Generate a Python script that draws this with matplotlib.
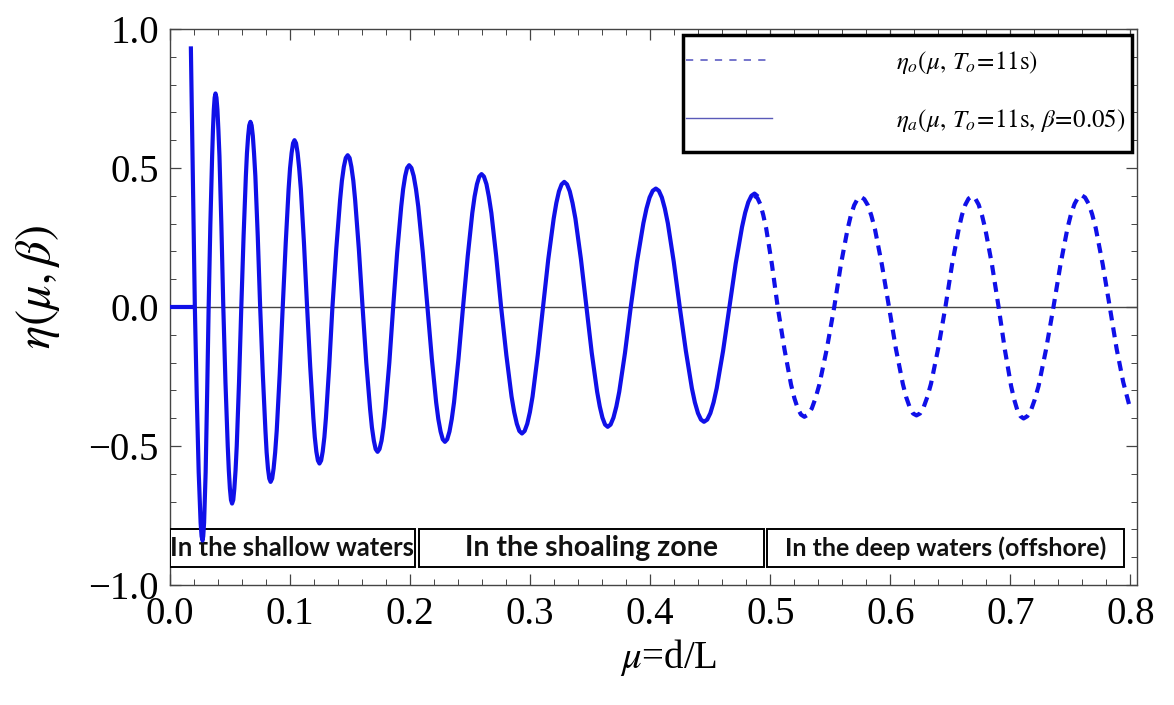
import numpy as np
import matplotlib.pyplot as plt
from matplotlib.lines import Line2D
from matplotlib.patches import Rectangle
from matplotlib.ticker import MultipleLocator

# digitised curve: eta_a (solid, with damping) over mu = d/L
# (flat part, a break, then the oscillating part)
mu_a = [0.0000, 0.0180, np.nan, 0.0174, 0.0190, 0.0207,
        0.0223, 0.0239, 0.0255, 0.0263, 0.0271, 0.0277, 0.0284, 0.0297, 0.0309, 0.0322,
        0.0336, 0.0351, 0.0358, 0.0365, 0.0372, 0.0379, 0.0387, 0.0395, 0.0403, 0.0412, 0.0428, 0.0444,
        0.0462, 0.0481, 0.0490, 0.0499, 0.0508, 0.0517, 0.0527, 0.0536, 0.0546, 0.0556, 0.0575, 0.0594,
        0.0613, 0.0632, 0.0641, 0.0651, 0.0660, 0.0670, 0.0680, 0.0690, 0.0700, 0.0711, 0.0731, 0.0751,
        0.0773, 0.0795, 0.0805, 0.0816, 0.0827, 0.0838, 0.0851, 0.0863, 0.0876, 0.0889, 0.0914, 0.0939,
        0.0964, 0.0988, 0.1000, 0.1013, 0.1025, 0.1037, 0.1050, 0.1063, 0.1076, 0.1090, 0.1116, 0.1142,
        0.1168, 0.1194, 0.1206, 0.1219, 0.1232, 0.1245, 0.1259, 0.1272, 0.1286, 0.1299, 0.1326, 0.1353,
        0.1385, 0.1417, 0.1432, 0.1448, 0.1464, 0.1480, 0.1496, 0.1511, 0.1527, 0.1542, 0.1573, 0.1604,
        0.1635, 0.1667, 0.1682, 0.1698, 0.1713, 0.1729, 0.1745, 0.1762, 0.1778, 0.1794, 0.1827, 0.1859,
        0.1892, 0.1926, 0.1942, 0.1959, 0.1975, 0.1992, 0.2011, 0.2030, 0.2049, 0.2068, 0.2106, 0.2144,
        0.2181, 0.2217, 0.2235, 0.2254, 0.2272, 0.2290, 0.2309, 0.2328, 0.2347, 0.2366, 0.2403, 0.2441,
        0.2480, 0.2518, 0.2537, 0.2557, 0.2576, 0.2595, 0.2615, 0.2636, 0.2656, 0.2677, 0.2717, 0.2758,
        0.2802, 0.2845, 0.2867, 0.2889, 0.2910, 0.2932, 0.2954, 0.2976, 0.2998, 0.3020, 0.3063, 0.3107,
        0.3151, 0.3196, 0.3218, 0.3240, 0.3262, 0.3284, 0.3307, 0.3330, 0.3353, 0.3377, 0.3423, 0.3469,
        0.3513, 0.3558, 0.3580, 0.3602, 0.3624, 0.3646, 0.3670, 0.3694, 0.3718, 0.3742, 0.3790, 0.3838,
        0.3890, 0.3943, 0.3969, 0.3995, 0.4021, 0.4047, 0.4072, 0.4097, 0.4122, 0.4147, 0.4196, 0.4246,
        0.4297, 0.4347, 0.4372, 0.4398, 0.4423, 0.4448, 0.4475, 0.4501, 0.4528, 0.4554, 0.4607, 0.4660,
        0.4712, 0.4765, 0.4791, 0.4817, 0.4843, 0.4869, 0.4885]
eta_a = [0.000, 0.000, np.nan, 0.930, 0.480, 0.000,
         -0.322, -0.594, -0.776, -0.824, -0.840, -0.824, -0.776, -0.594, -0.322, 0.000,
         0.294, 0.543, 0.638, 0.710, 0.753, 0.768, 0.753, 0.710, 0.638, 0.543, 0.294, 0.000,
         -0.271, -0.500, -0.588, -0.653, -0.694, -0.707, -0.694, -0.653, -0.588, -0.500, -0.271, 0.000,
         0.255, 0.471, 0.553, 0.615, 0.653, 0.666, 0.653, 0.615, 0.553, 0.471, 0.255, 0.000,
         -0.241, -0.445, -0.523, -0.581, -0.617, -0.629, -0.617, -0.581, -0.523, -0.445, -0.241, 0.000,
         0.230, 0.424, 0.499, 0.554, 0.589, 0.600, 0.589, 0.554, 0.499, 0.424, 0.230, 0.000,
         -0.215, -0.398, -0.468, -0.520, -0.552, -0.563, -0.552, -0.520, -0.468, -0.398, -0.215, 0.000,
         0.209, 0.386, 0.454, 0.504, 0.536, 0.546, 0.536, 0.504, 0.454, 0.386, 0.209, 0.000,
         -0.200, -0.368, -0.433, -0.481, -0.511, -0.521, -0.511, -0.481, -0.433, -0.368, -0.200, 0.000,
         0.195, 0.361, 0.424, 0.471, 0.500, 0.510, 0.500, 0.471, 0.424, 0.361, 0.195, 0.000,
         -0.186, -0.343, -0.403, -0.448, -0.476, -0.485, -0.476, -0.448, -0.403, -0.343, -0.186, 0.000,
         0.183, 0.338, 0.397, 0.442, 0.469, 0.478, 0.469, 0.442, 0.397, 0.338, 0.183, 0.000,
         -0.174, -0.322, -0.378, -0.420, -0.446, -0.455, -0.446, -0.420, -0.378, -0.322, -0.174, 0.000,
         0.172, 0.318, 0.374, 0.416, 0.441, 0.450, 0.441, 0.416, 0.374, 0.318, 0.172, 0.000,
         -0.165, -0.305, -0.358, -0.398, -0.423, -0.431, -0.423, -0.398, -0.358, -0.305, -0.165, 0.000,
         0.163, 0.301, 0.354, 0.394, 0.418, 0.426, 0.418, 0.394, 0.354, 0.301, 0.163, 0.000,
         -0.158, -0.292, -0.343, -0.382, -0.405, -0.413, -0.405, -0.382, -0.343, -0.292, -0.158, 0.000,
         0.156, 0.288, 0.339, 0.377, 0.400, 0.408, 0.402]

mu_o = [0.4869, 0.4893, 0.4917, 0.4941, 0.4966, 0.5014, 0.5062,
        0.5118, 0.5173, 0.5201, 0.5229, 0.5256, 0.5284, 0.5315, 0.5346, 0.5377, 0.5409, 0.5471, 0.5533,
        0.5588, 0.5644, 0.5671, 0.5699, 0.5726, 0.5754, 0.5783, 0.5813, 0.5842, 0.5872, 0.5930, 0.5989,
        0.6046, 0.6104, 0.6132, 0.6161, 0.6189, 0.6218, 0.6248, 0.6278, 0.6308, 0.6339, 0.6399, 0.6459,
        0.6514, 0.6570, 0.6597, 0.6625, 0.6652, 0.6680, 0.6708, 0.6736, 0.6763, 0.6791, 0.6847, 0.6902,
        0.6954, 0.7006, 0.7032, 0.7058, 0.7084, 0.7110, 0.7141, 0.7172, 0.7203, 0.7235, 0.7297, 0.7359,
        0.7418, 0.7476, 0.7505, 0.7535, 0.7564, 0.7593, 0.7622, 0.7652, 0.7681, 0.7711, 0.7769, 0.7828,
        0.7885, 0.7940, 0.7994]
eta_o = [0.400, 0.392, 0.370, 0.332, 0.283, 0.153, 0.000,
         -0.151, -0.279, -0.328, -0.365, -0.387, -0.395, -0.387, -0.365, -0.328, -0.279, -0.151, 0.000,
         0.152, 0.280, 0.329, 0.366, 0.388, 0.396, 0.388, 0.366, 0.329, 0.280, 0.152, 0.000,
         -0.149, -0.276, -0.324, -0.360, -0.383, -0.390, -0.383, -0.360, -0.324, -0.276, -0.149, 0.000,
         0.152, 0.281, 0.331, 0.368, 0.390, 0.398, 0.390, 0.368, 0.331, 0.281, 0.152, 0.000,
         -0.153, -0.284, -0.333, -0.371, -0.393, -0.401, -0.393, -0.371, -0.333, -0.284, -0.153, 0.000,
         0.154, 0.284, 0.334, 0.371, 0.394, 0.402, 0.394, 0.371, 0.334, 0.284, 0.154, 0.000,
         -0.150, -0.270, -0.359]

zones = ["In the shallow waters", "In the shoaling zone", "In the deep waters (offshore)"]
zone_edges = [(0.000, 0.204), (0.207, 0.4946), (0.4975, 0.795)]
zone_sizes = [18.5, 20.5, 18]

plt.rcParams["font.family"] = ["Liberation Serif", "DejaVu Serif"]
plt.rcParams["mathtext.fontset"] = "stix"

fig = plt.figure(figsize=(11.74, 7.05), dpi=100)
ax = fig.add_axes([0.1448, 0.1702, 0.8237, 0.7887])

blue = "#1010e8"
ax.axhline(0, color="#444444", lw=1.0, zorder=1)
ax.plot(mu_a, eta_a, color=blue, lw=3.0, solid_joinstyle="round", zorder=4)
ax.plot(mu_o, eta_o, color=blue, lw=3.0, dashes=(2.4, 1.7), zorder=4)

for label, (a, b), fs in zip(zones, zone_edges, zone_sizes):
    ax.add_patch(Rectangle((a, -0.936), b - a, 0.137, facecolor="white",
                           edgecolor="black", lw=1.4, zorder=3))
    ax.text((a + b) / 2, -0.868, label, ha="center", va="center",
            fontsize=fs, family="Lato", weight="bold", color="#111111", zorder=3)

ax.set_xlim(0, 0.8055)
ax.set_ylim(-1.0, 1.0)
ax.xaxis.set_major_locator(MultipleLocator(0.1))
ax.xaxis.set_minor_locator(MultipleLocator(0.02))
ax.yaxis.set_major_locator(MultipleLocator(0.5))
ax.yaxis.set_minor_locator(MultipleLocator(0.1))
ax.tick_params(which="both", direction="in", top=True, right=True,
               color="#444444", labelsize=28, pad=8)
ax.tick_params(which="major", length=8, width=0.9)
ax.tick_params(which="minor", length=4, width=0.7)
for s in ax.spines.values():
    s.set_color("#444444")
    s.set_linewidth(1.0)

ax.set_xlabel(r"$\mu$=d/L", fontsize=28)
ax.xaxis.set_label_coords(0.516, -0.093)
ax.set_ylabel(r"$\eta(\mu,\beta)$", fontsize=35)
ax.yaxis.set_label_coords(-0.112, 0.536)

# legend: frame drawn as a box in axes space, entries via legend
ax.add_patch(Rectangle((0.5305, 0.7788), 0.4643, 0.2102, transform=ax.transAxes,
                       facecolor="white", edgecolor="black", lw=2.5, zorder=5))
handles = [Line2D([], [], color="#6a6ac8", lw=1.3, dashes=(4, 4)),
           Line2D([], [], color="#5a5ab8", lw=1.0)]
labels = [r"$\eta_o(\mu,\,T_o\!=\!11\mathrm{s})$",
          r"$\eta_a(\mu,\,T_o\!=\!11\mathrm{s},\,\beta\!=\!0.05)$"]
leg = ax.legend(handles, labels, loc="center left", bbox_to_anchor=(0.5335, 0.888),
                fontsize=18, handlelength=3.45, handletextpad=4.95, borderpad=0,
                labelspacing=1.24, borderaxespad=0, frameon=False)
leg.set_zorder(6)

fig.savefig("out.png", dpi=100)
